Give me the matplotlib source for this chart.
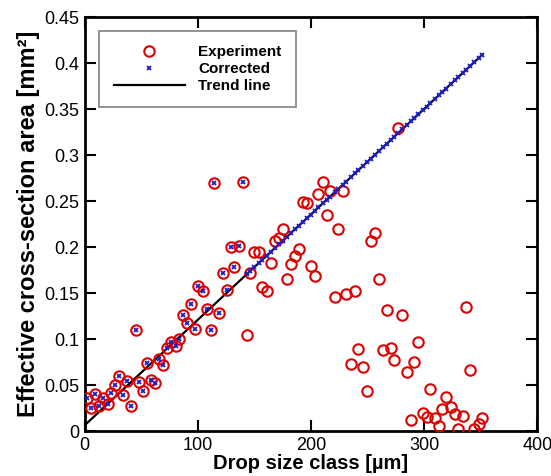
import matplotlib
matplotlib.use('Agg')
import matplotlib.pyplot as plt
import numpy as np

plt.rcParams['font.family'] = ['Liberation Sans', 'DejaVu Sans']

# drop size classes [um] and measured effective cross-section area [mm^2]
drop_size = [1.9, 5.7, 9.3, 12.8, 16.0, 20.5, 23.4, 26.9, 30.5, 33.7,
             37.8, 40.8, 45.2, 48.1, 51.4, 54.9, 58.4, 62.5, 65.8, 69.6,
             72.6, 76.1, 80.5, 83.4, 86.7, 90.2, 93.8, 97.6, 100.5, 104.9,
             107.9, 111.4, 114.6, 119.0, 122.0, 125.6, 129.1, 132.3, 136.2, 139.7,
             143.2, 146.1, 149.7, 154.1, 157.0, 160.9, 164.4, 168.2, 172.0, 175.0,
             178.5, 182.0, 185.9, 189.4, 193.2, 196.2, 199.7, 203.5, 206.5, 210.3,
             213.9, 216.8, 221.2, 224.1, 228.0, 230.9, 235.0, 238.8, 241.8, 245.6,
             249.2, 252.7, 256.5, 260.3, 263.5, 266.8, 270.4, 273.6, 277.1, 280.6,
             284.5, 288.0, 291.2, 294.8, 298.6, 302.2, 305.1, 309.5, 313.0, 316.0,
             319.2, 323.4, 327.2, 330.0, 334.0, 336.9, 340.4, 344.0, 348.0, 351.3]
experiment = [0.036, 0.025, 0.0405, 0.0275, 0.036, 0.030, 0.042, 0.050, 0.060, 0.039,
              0.055, 0.028, 0.110, 0.054, 0.044, 0.074, 0.056, 0.053, 0.079, 0.072,
              0.091, 0.097, 0.093, 0.100, 0.126, 0.118, 0.138, 0.111, 0.158, 0.152,
              0.133, 0.110, 0.270, 0.129, 0.172, 0.154, 0.200, 0.179, 0.201, 0.271,
              0.105, 0.172, 0.195, 0.195, 0.157, 0.152, 0.183, 0.207, 0.210, 0.220,
              0.166, 0.182, 0.191, 0.198, 0.249, 0.248, 0.180, 0.169, 0.258, 0.271,
              0.235, 0.261, 0.146, 0.220, 0.261, 0.149, 0.073, 0.152, 0.089, 0.070,
              0.044, 0.207, 0.215, 0.166, 0.088, 0.132, 0.091, 0.078, 0.330, 0.126,
              0.064, 0.012, 0.075, 0.097, 0.020, 0.016, 0.046, 0.014, 0.006, 0.024,
              0.037, 0.026, 0.019, 0.002, 0.017, 0.135, 0.067, 0.002, 0.008, 0.015]

# trend line
trend_slope = 0.001147
trend_intercept = 0.0064
n_valid = 40  # classes below this index keep the measured value

x = np.array(drop_size)
y_exp = np.array(experiment)
y_trend = trend_intercept + trend_slope * x
y_corr = np.where(np.arange(len(x)) < n_valid, y_exp, y_trend)

fig = plt.figure(figsize=(5.51, 4.76), dpi=100)
ax = fig.add_axes([0.1534, 0.0939, 0.822, 0.8698])

ax.plot(x, y_exp, 'o', ls='none', mfc='none', mec='#dd0000', ms=7.5, mew=1.5,
        label='Experiment', zorder=3)
ax.plot(x, y_corr, 'x', ls='none', color='#1c1cc8', ms=3.5, mew=1.3,
        label='Corrected', zorder=4)
ax.plot(x, y_trend, '-', color='black', lw=1.6, label='Trend line', zorder=2)

ax.set_xlim(0, 400)
ax.set_ylim(0, 0.45)
ax.set_xticks([0, 100, 200, 300, 400])
ax.set_yticks([0, 0.05, 0.1, 0.15, 0.2, 0.25, 0.3, 0.35, 0.4, 0.45])
ax.set_yticklabels(['0', '0.05', '0.1', '0.15', '0.2', '0.25', '0.3', '0.35', '0.4', '0.45'])
ax.tick_params(direction='in', length=8, width=1.5, top=True, right=True,
               labelsize=13, pad=4)
for s in ax.spines.values():
    s.set_linewidth(2)

ax.set_xlabel('Drop size class [µm]', fontsize=14.5, fontweight='bold', labelpad=0)
ax.set_ylabel('Effective cross-section area [mm²]', fontsize=17, fontweight='bold',
              labelpad=3)

leg = ax.legend(loc='upper left', bbox_to_anchor=(0.032, 0.967),
                prop={'weight': 'bold', 'size': 11}, handlelength=4.7,
                handletextpad=0.85, labelspacing=0.18, borderpad=0.95,
                borderaxespad=0, fancybox=False, framealpha=1)
leg.get_frame().set_edgecolor('#808080')
leg.get_frame().set_linewidth(1.2)

fig.savefig('out.png', dpi=100)
